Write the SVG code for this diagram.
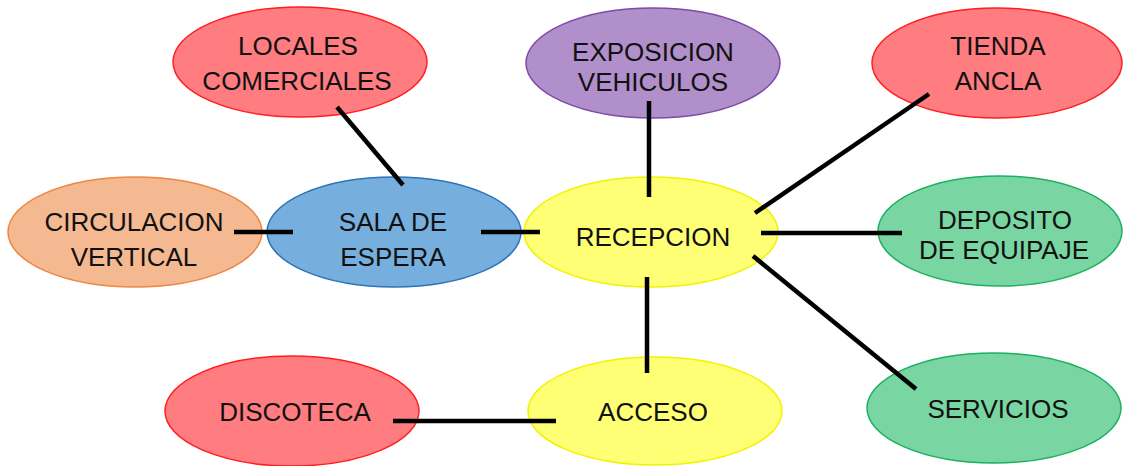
<svg xmlns="http://www.w3.org/2000/svg" width="1125" height="466" viewBox="0 0 1125 466">
<style>
ellipse{stroke-width:1.5}
.red{fill:#FF7C80;stroke:#FF1F1F}
.pur{fill:#B08FCA;stroke:#7E4AA8}
.blu{fill:#76AFDD;stroke:#2A74B8}
.yel{fill:#FFFF75;stroke:#F2F200}
.grn{fill:#79D6A2;stroke:#1CB060}
.org{fill:#F5B992;stroke:#EE8640}
text{font-family:"Liberation Sans",Arial,sans-serif;font-size:26px;fill:#111;text-anchor:middle}
.c line{stroke:#000;stroke-width:4.5}
</style>
<rect width="1125" height="466" fill="#fff"/>
<g id="locales"><ellipse class="red" cx="300" cy="62" rx="127" ry="55"/><text x="298" y="55">LOCALES</text><text x="297" y="90">COMERCIALES</text></g>
<g id="exposicion"><ellipse class="pur" cx="653" cy="63" rx="127" ry="55"/><text x="653" y="61">EXPOSICION</text><text x="653" y="91">VEHICULOS</text></g>
<g id="tienda"><ellipse class="red" cx="997" cy="63" rx="125" ry="55"/><text x="998" y="55">TIENDA</text><text x="998" y="90">ANCLA</text></g>
<g id="circulacion"><ellipse class="org" cx="135" cy="232" rx="127" ry="55"/><text x="134" y="231">CIRCULACION</text><text x="134" y="266">VERTICAL</text></g>
<g id="sala"><ellipse class="blu" cx="394" cy="232" rx="127" ry="55"/><text x="393" y="231">SALA DE</text><text x="393" y="266">ESPERA</text></g>
<g id="recepcion"><ellipse class="yel" cx="651" cy="232" rx="127" ry="55"/><text x="653" y="246">RECEPCION</text></g>
<g id="deposito"><ellipse class="grn" cx="1000" cy="231" rx="122" ry="55"/><text x="1005" y="229">DEPOSITO</text><text x="1004" y="259">DE EQUIPAJE</text></g>
<g id="discoteca"><ellipse class="red" cx="292" cy="411" rx="127" ry="55"/><text x="295" y="421">DISCOTECA</text></g>
<g id="acceso"><ellipse class="yel" cx="655" cy="411" rx="127" ry="54"/><text x="653" y="421">ACCESO</text></g>
<g id="servicios"><ellipse class="grn" cx="994" cy="408" rx="127" ry="55"/><text x="998" y="418">SERVICIOS</text></g>
<g id="connectors" class="c">
<line x1="337" y1="107" x2="403" y2="185"/>
<line x1="649" y1="101" x2="649" y2="197"/>
<line x1="929" y1="94" x2="755" y2="213"/>
<line x1="234" y1="232" x2="293" y2="232"/>
<line x1="481" y1="232" x2="540" y2="232"/>
<line x1="761" y1="233" x2="902" y2="233"/>
<line x1="753" y1="256" x2="916" y2="389"/>
<line x1="647" y1="277" x2="647" y2="373"/>
<line x1="393" y1="421" x2="556" y2="421"/>
</g>
</svg>
